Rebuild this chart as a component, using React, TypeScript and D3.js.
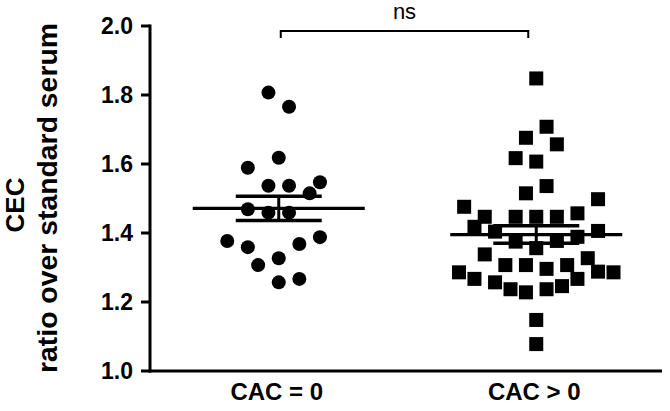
import React from "react";
import * as d3 from "d3";

// ---- data ----
const groups = ["CAC = 0", "CAC > 0"];
const cac0Values = [1.807, 1.766, 1.618, 1.589, 1.537, 1.537, 1.547, 1.515, 1.469, 1.459, 1.459, 1.377, 1.359, 1.368, 1.388, 1.327, 1.307, 1.257, 1.267];
const cac0Slots = [-1, 1, 0, -3, -1, 1, 4, 3, -3, -1, 1, -5, -3, 2, 4, 0, -2, 0, 2];
const cacPosValues = [1.848, 1.708, 1.676, 1.657, 1.617, 1.607, 1.536, 1.515, 1.498, 1.476, 1.447, 1.447, 1.447, 1.447, 1.457, 1.418, 1.404, 1.406, 1.389, 1.375, 1.377, 1.356, 1.338, 1.327, 1.307, 1.307, 1.296, 1.307, 1.286, 1.288, 1.286, 1.267, 1.257, 1.267, 1.237, 1.228, 1.237, 1.246, 1.148, 1.078];
const cacPosSlots = [0, 1, -1, 2, -2, 0, 1, -1, 6, -7, -5, -2, 0, 2, 4, -6, -4, 6, 4, -2, 2, 0, -5, 5, -3, -1, 1, 3, -7.5, 6, 7.5, -6, -4, 4, -2.5, -1, 1, 2.5, 0, 0];
const yTicks = [1.0, 1.2, 1.4, 1.6, 1.8, 2.0];
const yTitleLines = ["CEC", "ratio over standard serum"];
const significance = "ns";

const W = 670, H = 411;
const axisX = 150, axisRight = 662;
const yTop = 26, yBottom = 371;
const slotUnit = 10.3;

export default function App() {
  const x = d3.scaleBand<string>().domain(groups).range([axisX, 665]);
  const cx = (g: string) => (x(g) as number) + x.bandwidth() / 2;
  const y = d3.scaleLinear().domain([1, 2]).range([yBottom, yTop]);
  const fmt = d3.format(".1f");

  const series = [
    { g: groups[0], values: cac0Values, slots: cac0Slots, shape: "circle" },
    { g: groups[1], values: cacPosValues, slots: cacPosSlots, shape: "square" },
  ];

  const stats = series.map((s) => {
    const m = d3.mean(s.values) as number;
    const sd = d3.deviation(s.values) as number;
    const sem = sd / Math.sqrt(s.values.length);
    return { g: s.g, m, sem };
  });

  const font = "'Liberation Sans', Arial, Helvetica, sans-serif";
  const c0 = cx(groups[0]);
  const c1 = cx(groups[1]);
  const bracketY = 31;

  return (
    <svg width={W} height={H} style={{ position: "absolute", left: 0, top: 0, background: "#fff" }} fontFamily={font}>
      <rect x={0} y={0} width={W} height={H} fill="#fff" />
      {/* y axis */}
      <line x1={axisX} x2={axisX} y1={yTop - 1.5} y2={yBottom + 1.5} stroke="#000" strokeWidth={3} />
      <line x1={axisX - 1.5} x2={axisRight} y1={yBottom} y2={yBottom} stroke="#000" strokeWidth={3} />
      {yTicks.map((t) => (
        <g key={t}>
          <line x1={axisX - 9} x2={axisX} y1={y(t)} y2={y(t)} stroke="#000" strokeWidth={3} />
          <text x={133} y={y(t)} dy="0.36em" textAnchor="end" fontSize={23} fontWeight="bold">{fmt(t)}</text>
        </g>
      ))}
      {/* y title */}
      <text transform={`translate(24,205) rotate(-90)`} textAnchor="middle" fontSize={26} fontWeight="bold">{yTitleLines[0]}</text>
      <text transform={`translate(57,198) rotate(-90)`} textAnchor="middle" fontSize={27} fontWeight="bold" textLength={350} lengthAdjust="spacingAndGlyphs">{yTitleLines[1]}</text>
      {/* x labels */}
      {groups.map((g) => (
        <text key={g} x={cx(g) - 2} y={400} textAnchor="middle" fontSize={24} fontWeight="bold">{g}</text>
      ))}
      {/* points */}
      {series.map((s) =>
        s.values.map((v, i) => {
          const px = cx(s.g) + s.slots[i] * slotUnit;
          const py = y(v);
          return s.shape === "circle" ? (
            <circle key={s.g + i} cx={px} cy={py} r={7} fill="#000" />
          ) : (
            <rect key={s.g + i} x={px - 7} y={py - 7} width={14} height={14} fill="#000" />
          );
        })
      )}
      {/* mean and SEM */}
      {stats.map((st) => {
        const c = cx(st.g);
        return (
          <g key={st.g} stroke="#000">
            <line x1={c - 86} x2={c + 86} y1={y(st.m)} y2={y(st.m)} strokeWidth={3.2} />
            <line x1={c - 43} x2={c + 43} y1={y(st.m + st.sem)} y2={y(st.m + st.sem)} strokeWidth={3.5} />
            <line x1={c - 43} x2={c + 43} y1={y(st.m - st.sem)} y2={y(st.m - st.sem)} strokeWidth={3.5} />
            <line x1={c} x2={c} y1={y(st.m + st.sem)} y2={y(st.m - st.sem)} strokeWidth={3} />
          </g>
        );
      })}
      {/* significance bracket */}
      <path d={`M${c0 + 2},${bracketY + 7}V${bracketY}H${c1 - 8}V${bracketY + 7}`} fill="none" stroke="#000" strokeWidth={2} />
      <text x={(c0 + c1) / 2 - 3} y={19} textAnchor="middle" fontSize={22}>{significance}</text>
    </svg>
  );
}
